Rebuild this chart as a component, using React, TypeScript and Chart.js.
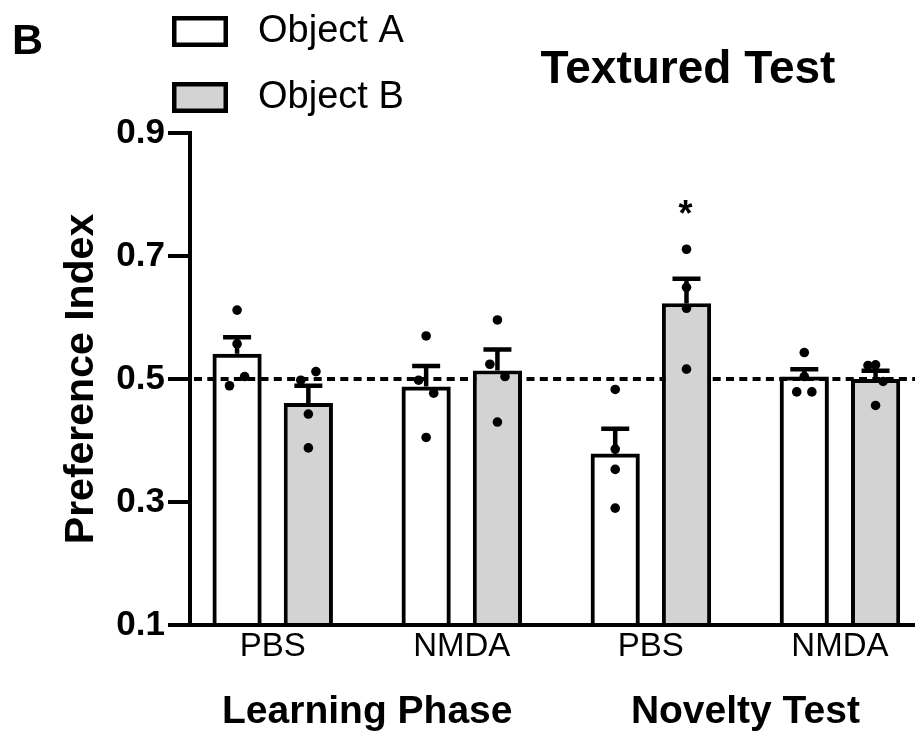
import React, { useEffect, useRef } from "react";
import { Chart, registerables } from "chart.js";

Chart.register(...registerables);

// ---------------- data ----------------
const GROUP_LABELS = ["PBS", "NMDA", "PBS", "NMDA"];
const PHASE_LABELS = ["Learning Phase", "Novelty Test"];
const PHASE_CENTERS = [0.5, 2.5];
const SERIES_NAMES = ["Object A", "Object B"];
const TITLE = "Textured Test";
const PANEL_LETTER = "B";
const Y_TITLE = "Preference Index";
const Y_TICKS = [0.1, 0.3, 0.5, 0.7, 0.9];
const REF_LINE = 0.5;

const MEAN_A = [0.541, 0.488, 0.379, 0.504];
const MEAN_B = [0.461, 0.514, 0.623, 0.5];
const SEM_A = [0.027, 0.033, 0.04, 0.012];
const SEM_B = [0.028, 0.034, 0.04, 0.0135];

const POINTS_A = [
  [0.612, 0.557, 0.489, 0.504],
  [0.57, 0.498, 0.477, 0.405],
  [0.483, 0.386, 0.353, 0.29],
  [0.543, 0.479, 0.479, 0.504],
];
const JITTER_A = [
  [0, 0, -1, 1],
  [0, -1, 1, 0],
  [0, 0, 0, 0],
  [0, -1, 1, 0],
];
const POINTS_B = [
  [0.512, 0.498, 0.443, 0.388],
  [0.596, 0.524, 0.504, 0.43],
  [0.711, 0.649, 0.615, 0.516],
  [0.522, 0.523, 0.496, 0.457],
];
const JITTER_B = [
  [1, -1, 0, 0],
  [0, -1, 1, 0],
  [0, 0, 0, 0],
  [-1, 0, 1, 0],
];

const SIGNIFICANCE = [{ group: 2, series: 1, y: 0.78, text: "*" }];

// ---------------- style ----------------
const FONT = "'Liberation Sans', Arial, Helvetica, sans-serif";
const FILLS = ["rgba(0,0,0,0)", "#d3d3d3"];
const LEGEND_FILLS = ["#ffffff", "#d3d3d3"];
const CATEGORY_PCT = 0.754;
const BAR_PCT = 0.69;
const JITTER_STEP = 0.04;
const X_MIN = -0.4375;
const X_MAX = 3.414;
const W = 915;
const H = 730;

const means = [MEAN_A, MEAN_B];
const sems = [SEM_A, SEM_B];
const points = [POINTS_A, POINTS_B];
const jitters = [JITTER_A, JITTER_B];

function sideOffset(s: number) {
  return (s === 0 ? -1 : 1) * (CATEGORY_PCT / 4);
}

function drawCenteredText(
  ctx: CanvasRenderingContext2D,
  text: string,
  x: number,
  cy: number,
  font: string,
  align: CanvasTextAlign
) {
  ctx.save();
  ctx.font = font;
  ctx.fillStyle = "#000";
  ctx.textAlign = align;
  ctx.textBaseline = "alphabetic";
  const m = ctx.measureText(text);
  const asc = m.actualBoundingBoxAscent;
  const desc = m.actualBoundingBoxDescent;
  ctx.fillText(text, x, cy + (asc - desc) / 2);
  ctx.restore();
}

const overlayPlugin = {
  id: "overlay",
  beforeDatasetsDraw(chart: any) {
    const { ctx, chartArea, scales } = chart;
    const y = scales.y.getPixelForValue(REF_LINE);
    ctx.save();
    ctx.strokeStyle = "#000";
    ctx.lineWidth = 4;
    ctx.setLineDash([8, 5.3]);
    ctx.beginPath();
    ctx.moveTo(chartArea.left + 4, y);
    ctx.lineTo(chartArea.right, y);
    ctx.stroke();
    ctx.restore();
  },
  afterDatasetsDraw(chart: any) {
    const { ctx, scales } = chart;
    ctx.save();
    ctx.strokeStyle = "#000";
    ctx.lineWidth = 4.5;
    for (let s = 0; s < 2; s++) {
      const meta = chart.getDatasetMeta(s);
      meta.data.forEach((el: any, g: number) => {
        const x = el.x;
        const yTop = scales.y.getPixelForValue(means[s][g]);
        const yCap = scales.y.getPixelForValue(means[s][g] + sems[s][g]);
        ctx.beginPath();
        ctx.moveTo(x, yTop);
        ctx.lineTo(x, yCap);
        ctx.moveTo(x - 14, yCap);
        ctx.lineTo(x + 14, yCap);
        ctx.stroke();
      });
    }
    ctx.restore();
  },
  afterDraw(chart: any) {
    const { ctx, scales } = chart;
    drawCenteredText(ctx, PANEL_LETTER, 4, 31, `bold 43px ${FONT}`, "left");
    drawCenteredText(ctx, TITLE, 680, 57.5, `bold 46px ${FONT}`, "center");
    const rows = [23.5, 89.5];
    for (let s = 0; s < 2; s++) {
      ctx.save();
      ctx.fillStyle = LEGEND_FILLS[s];
      ctx.strokeStyle = "#000";
      ctx.lineWidth = 4.5;
      const bw = 56, bh = 31;
      const bx = 164, by = rows[s] - bh / 2;
      ctx.fillRect(bx + 2.25, by + 2.25, bw - 4.5, bh - 4.5);
      ctx.strokeRect(bx + 2.25, by + 2.25, bw - 4.5, bh - 4.5);
      ctx.restore();
      drawCenteredText(ctx, SERIES_NAMES[s], 250, rows[s], `38px ${FONT}`, "left");
    }
    PHASE_LABELS.forEach((t, i) => {
      const x = scales.x.getPixelForValue(PHASE_CENTERS[i]);
      drawCenteredText(ctx, t, x, 705, `bold 39px ${FONT}`, "center");
    });
    SIGNIFICANCE.forEach((sig) => {
      const el = chart.getDatasetMeta(sig.series).data[sig.group];
      const y = scales.y.getPixelForValue(sig.y);
      drawCenteredText(ctx, sig.text, el.x - 1, y, `bold 36px ${FONT}`, "center");
    });
  },
};

export default function App() {
  const ref = useRef<HTMLCanvasElement | null>(null);

  useEffect(() => {
    if (!ref.current) return;

    const barSets = [0, 1].map((s) => ({
      type: "bar" as const,
      label: SERIES_NAMES[s],
      data: means[s].map((v, g) => ({ x: g, y: v })),
      backgroundColor: FILLS[s],
      borderColor: "#000",
      borderWidth: 4,
      borderSkipped: "start",
      base: Y_TICKS[0],
      categoryPercentage: CATEGORY_PCT,
      barPercentage: BAR_PCT,
      order: 1,
    }));

    const dotSets = [0, 1].map((s) => ({
      type: "scatter" as const,
      label: SERIES_NAMES[s] + " points",
      data: points[s].flatMap((arr, g) =>
        arr.map((v, k) => ({
          x: g + sideOffset(s) + jitters[s][g][k] * JITTER_STEP,
          y: v,
        }))
      ),
      backgroundColor: "#000",
      borderWidth: 0,
      pointRadius: 4.8,
      pointHoverRadius: 4.8,
      order: 0,
    }));

    const chart = new Chart(ref.current, {
      type: "bar",
      data: { datasets: [...barSets, ...dotSets] as any },
      options: {
        animation: false,
        responsive: false,
        events: [],
        layout: { padding: { top: 125, left: 0, right: 0, bottom: 0 } },
        plugins: {
          legend: { display: false },
          tooltip: { enabled: false },
          title: { display: false },
        },
        scales: {
          x: {
            type: "linear",
            offset: false,
            min: X_MIN,
            max: X_MAX,
            afterFit: (s: any) => {
              s.height = 113;
            },
            afterBuildTicks: (s: any) => {
              s.ticks = GROUP_LABELS.map((_, i) => ({ value: i }));
            },
            ticks: {
              autoSkip: false,
              maxRotation: 0,
              padding: 2,
              color: "#000",
              font: { family: FONT, size: 33 },
              callback: (v: any) => GROUP_LABELS[Math.round(Number(v))] ?? "",
            },
            grid: { display: false, drawTicks: false, offset: false },
            border: { display: true, color: "#000", width: 4 },
          },
          y: {
            type: "linear",
            min: Y_TICKS[0],
            max: Y_TICKS[Y_TICKS.length - 1],
            afterFit: (s: any) => {
              s.width = 182;
            },
            afterBuildTicks: (s: any) => {
              s.ticks = Y_TICKS.map((v) => ({ value: v }));
            },
            ticks: {
              padding: 3,
              color: "#000",
              font: { family: FONT, size: 35, weight: "bold" },
              callback: (v: any) => Number(v).toFixed(1),
            },
            grid: {
              drawOnChartArea: false,
              color: "#000",
              lineWidth: 4,
              tickLength: 22,
            },
            border: { display: true, color: "#000", width: 4 },
            title: {
              display: true,
              text: Y_TITLE,
              color: "#000",
              font: { family: FONT, size: 41, weight: "bold" },
              padding: { top: 49, bottom: 0 },
            },
          },
        },
      } as any,
      plugins: [overlayPlugin],
    });

    return () => chart.destroy();
  }, []);

  return (
    <div style={{ width: W, height: H, overflow: "hidden" }}>
      <canvas ref={ref} width={W} height={H} style={{ display: "block" }} />
    </div>
  );
}
